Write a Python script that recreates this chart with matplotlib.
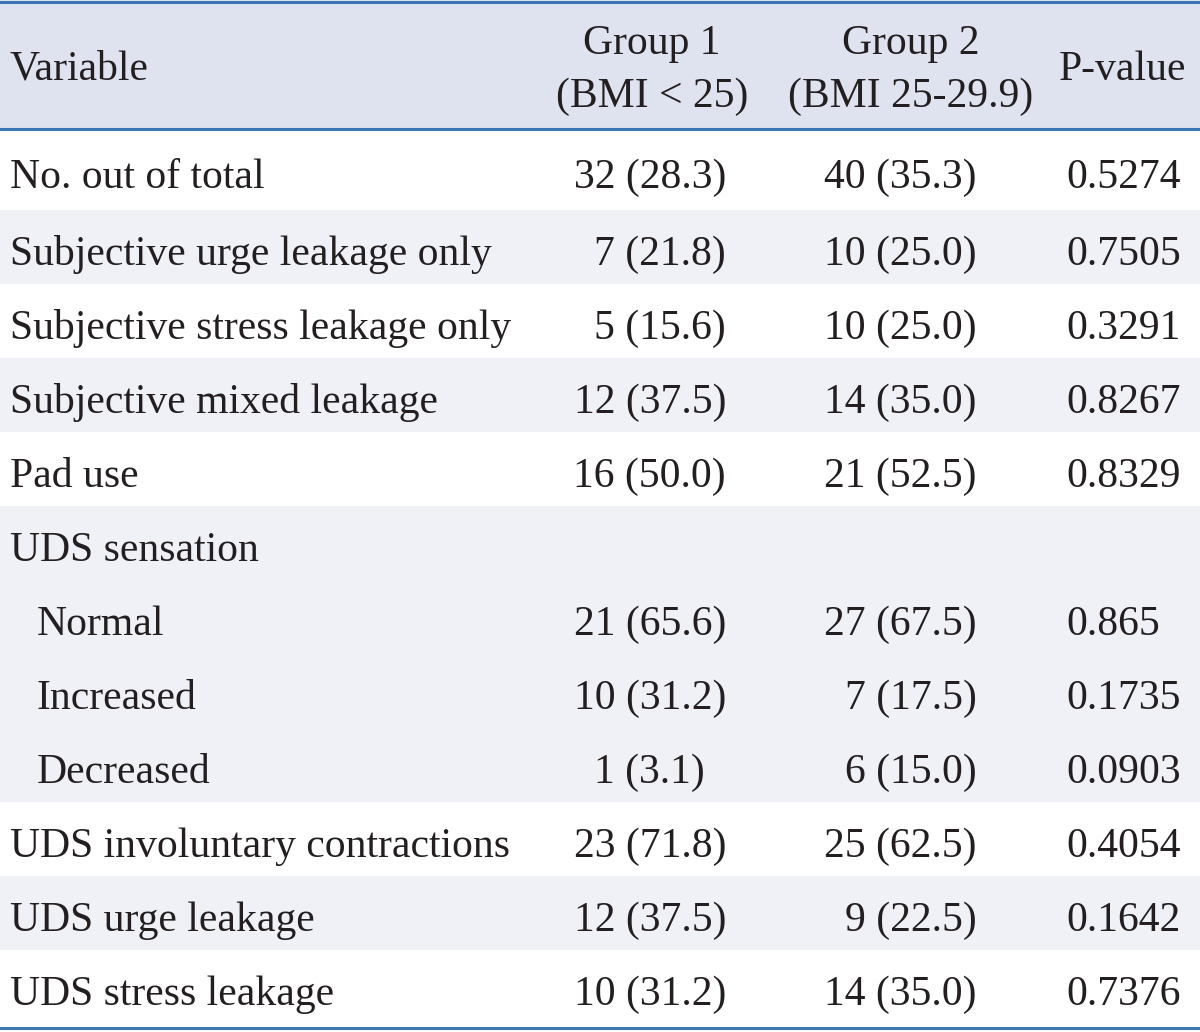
import matplotlib
matplotlib.use("Agg")
import matplotlib.pyplot as plt

plt.rcParams['font.family'] = ['Liberation Serif', 'DejaVu Serif']

HEADERS = ['Variable', 'Group 1\n(BMI < 25)', 'Group 2\n(BMI 25-29.9)', 'P-value']

variables = ['No. out of total', 'Subjective urge leakage only',
             'Subjective stress leakage only', 'Subjective mixed leakage',
             'Pad use', 'UDS sensation', 'Normal', 'Increased', 'Decreased',
             'UDS involuntary contractions', 'UDS urge leakage', 'UDS stress leakage']
levels = [0, 0, 0, 0, 0, 0, 1, 1, 1, 0, 0, 0]
group1 = ['32 (28.3)', '7 (21.8)', '5 (15.6)', '12 (37.5)', '16 (50.0)', '',
          '21 (65.6)', '10 (31.2)', '1 (3.1)\u2007', '23 (71.8)', '12 (37.5)', '10 (31.2)']
group2 = ['40 (35.3)', '10 (25.0)', '10 (25.0)', '14 (35.0)', '21 (52.5)', '',
          '27 (67.5)', '7 (17.5)', '6 (15.0)', '25 (62.5)', '9 (22.5)', '14 (35.0)']
pvalues = ['0.5274', '0.7505', '0.3291', '0.8267', '0.8329', '',
           '0.865', '0.1735', '0.0903', '0.4054', '0.1642', '0.7376']

W, H = 1200, 1032
HEADER_BG = '#dfe3ef'
STRIPE_BG = '#eff1f7'
LINE = '#3b78b3'
TEXT = '#231f20'
FS = 30

fig = plt.figure(figsize=(W / 100, H / 100), dpi=100)
ax = fig.add_axes([0, 0, 1, 1])
ax.set_xlim(0, W)
ax.set_ylim(H, 0)
ax.axis('off')

# row geometry (pixels)
header_h = 129
row_h = [81] + [74] * 10 + [78]

ax.axhspan(0, header_h, color=HEADER_BG, lw=0)

y = header_h
shade = True
tops = []
for i, h in enumerate(row_h):
    if levels[i] == 0:
        shade = not shade
    if shade:
        ax.axhspan(y, y + h, color=STRIPE_BG, lw=0)
    tops.append(y)
    y += h
bottom = y

for yy in (1.5, header_h, bottom):
    ax.axhline(yy, color=LINE, lw=2.2)

# header text
ax.text(10, 80, HEADERS[0], fontsize=FS, color=TEXT, ha='left', va='baseline')
for x, lab in zip((652, 911), HEADERS[1:3]):
    l1, l2 = lab.split('\n')
    ax.text(x, 54, l1, fontsize=FS, color=TEXT, ha='center', va='baseline')
    ax.text(x, 107, l2, fontsize=FS, color=TEXT, ha='center', va='baseline')
ax.text(1123, 80, HEADERS[3], fontsize=FS, color=TEXT, ha='center', va='baseline')

# body text
for i in range(len(variables)):
    base = tops[i] + row_h[i] / 2 + 18
    if i == len(variables) - 1:
        base -= 2
    ax.text(10 + 27 * levels[i], base, variables[i], fontsize=FS, color=TEXT,
            ha='left', va='baseline')
    ax.text(726, base, group1[i], fontsize=FS, color=TEXT, ha='right', va='baseline')
    ax.text(977, base, group2[i], fontsize=FS, color=TEXT, ha='right', va='baseline')
    ax.text(1066, base, pvalues[i], fontsize=FS, color=TEXT, ha='left', va='baseline')

fig.savefig('out.png', dpi=100)
